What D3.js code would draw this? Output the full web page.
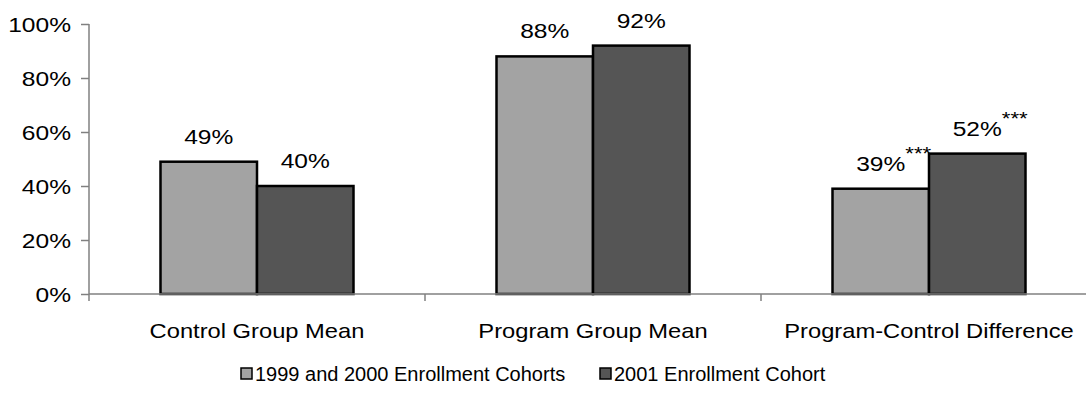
<!DOCTYPE html>
<html>
<head>
<meta charset="utf-8">
<script src="https://cdn.jsdelivr.net/npm/d3@7"></script>
<style>
  html, body { margin: 0; padding: 0; background: #fff; }
  svg { display: block; font-family: "Liberation Sans", Arial, sans-serif; }
</style>
</head>
<body>
<svg id="chart" width="1086" height="398"></svg>
<script>
// Outcome categories and the two cohort series (percent)
const categories = ["Control Group Mean", "Program Group Mean", "Program-Control Difference"];
const seriesNames = ["1999 and 2000 Enrollment Cohorts", "2001 Enrollment Cohort"];
const cohort9900 = [49, 88, 39];
const cohort2001 = [40, 92, 52];
const significance = [["", ""], ["", ""], ["***", "***"]];
const yTicks = [0, 20, 40, 60, 80, 100];

const colors = ["#a3a3a3", "#555555"];
const values = [cohort9900, cohort2001];

const svg = d3.select("#chart");
const plotLeft = 89, plotRight = 1097, plotTop = 24, plotBottom = 294;

const x0 = d3.scaleBand().domain(categories).range([plotLeft, plotRight]).paddingInner(0).paddingOuter(0);
const x1 = d3.scaleBand().domain(seriesNames).range([0, x0.bandwidth()]).paddingInner(0).paddingOuter(0.741);
const y = d3.scaleLinear().domain([0, 100]).range([plotBottom, plotTop]);

const axisColor = "#808080";
const fontSize = 21;
const wide = 1.17;      // horizontal stretch of the axis/value lettering
const catWide = 1.13;

// Place a text at (x, y) with a horizontal stretch around its anchor point
function stretched(sel, x, yy, sx) {
  return sel.attr("x", 0).attr("y", 0)
    .attr("transform", `translate(${x},${yy}) scale(${sx},1)`);
}

// Y axis
const yAxis = svg.append("g").attr("transform", `translate(${plotLeft},0)`)
  .call(d3.axisLeft(y).tickValues(yTicks).tickSize(8).tickPadding(10).tickFormat(d => d + "%"));
yAxis.select(".domain").attr("stroke", axisColor).attr("stroke-width", 1.5).attr("d", `M0,${plotTop}V${plotBottom + 7}`);
yAxis.selectAll(".tick line").attr("stroke", axisColor).attr("stroke-width", 1.5);
yAxis.selectAll(".tick text").attr("font-size", fontSize).attr("fill", "#000")
  .attr("font-family", "Liberation Sans, Arial, sans-serif").attr("dy", "0.35em")
  .each(function() { stretched(d3.select(this), -18, 0, wide); });

// Bars
const groups = svg.append("g").selectAll("g").data(categories).join("g")
  .attr("transform", d => `translate(${x0(d)},0)`);

groups.each(function(cat, ci) {
  const g = d3.select(this);
  seriesNames.forEach((s, si) => {
    const v = values[si][ci];
    g.append("rect")
      .attr("x", x1(s)).attr("y", y(v))
      .attr("width", x1.bandwidth()).attr("height", y(0) - y(v))
      .attr("fill", colors[si]).attr("stroke", "#000").attr("stroke-width", 2.5);
  });
});

// X axis (category ticks between groups)
const xAxis = svg.append("g").attr("transform", `translate(0,${plotBottom})`);
xAxis.append("line").attr("x1", plotLeft).attr("x2", plotRight).attr("y1", 0).attr("y2", 0)
  .attr("stroke", axisColor).attr("stroke-width", 1.5);
categories.slice(1).forEach(c => {
  xAxis.append("line").attr("x1", x0(c)).attr("x2", x0(c)).attr("y1", 0).attr("y2", 7)
    .attr("stroke", axisColor).attr("stroke-width", 1.5);
});
categories.forEach(c => {
  stretched(xAxis.append("text"), x0(c) + x0.bandwidth() / 2, 44, catWide)
    .attr("text-anchor", "middle").attr("font-size", fontSize).text(c);
});

// Value labels, with significance stars raised after the number
groups.each(function(cat, ci) {
  const g = d3.select(this);
  seriesNames.forEach((s, si) => {
    const v = values[si][ci];
    const cx = x1(s) + x1.bandwidth() / 2;
    const t = stretched(g.append("text"), cx, y(v) - 18, wide)
      .attr("text-anchor", "middle").attr("font-size", fontSize).text(v + "%");
    const star = significance[ci][si];
    if (star) {
      const w = t.node().getComputedTextLength() * wide;
      stretched(g.append("text"), cx + w / 2, y(v) - 29, wide)
        .attr("font-size", 19).text(star);
    }
  });
});

// Legend
const legend = svg.append("g").attr("transform", "translate(0,381)");
const legendX = [241, 600];
seriesNames.forEach((s, i) => {
  legend.append("rect").attr("x", legendX[i]).attr("y", -13).attr("width", 11).attr("height", 11)
    .attr("fill", colors[i]).attr("stroke", "#000").attr("stroke-width", 1.5);
  legend.append("text").attr("x", legendX[i] + 14).attr("y", 0)
    .attr("font-size", 20).text(s);
});
</script>
</body>
</html>
